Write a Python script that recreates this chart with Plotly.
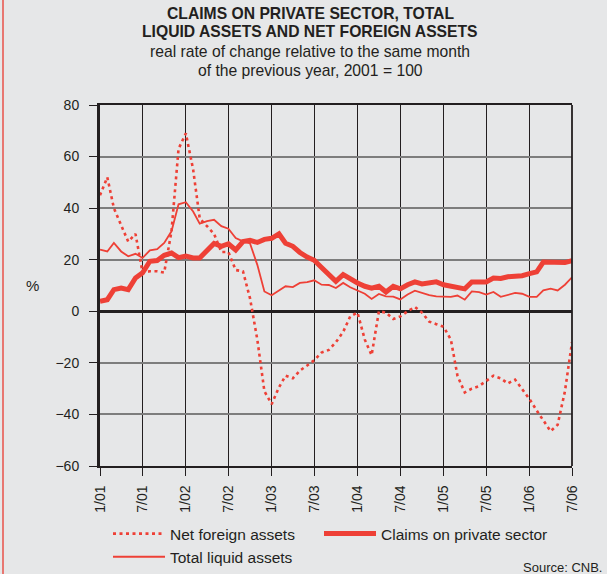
import pandas as pd
import plotly.graph_objects as go

months = pd.date_range("2001-01-01", "2006-07-01", freq="MS")

net_foreign_assets = [
    45, 52, 40, 33, 27, 30, 15, 15.5, 15.5, 15, 31, 63,
    69, 55, 36, 33, 30, 23, 23, 16, 15.5, 5, -11, -31,
    -36, -29.5, -25, -26, -23, -21, -19, -16, -15, -12, -8, -2,
    -0.5, -11, -17, 0, -0.5, -3, -2, 0, 1.7, -0.5, -4, -5,
    -6, -11, -25, -31.5, -30, -29, -27, -25, -26, -28, -26.5, -30,
    -34, -38.5, -42.5, -46.5, -44, -31, -12,
]
claims_private = [
    3.9, 4.5, 8.4, 9, 8.4, 12.9, 14.9, 19.4, 19.7, 21.7, 22.6, 20.8,
    21.4, 20.7, 20.7, 23.9, 26.3, 25.2, 26.2, 23.8, 27, 27.5, 26.7, 27.9,
    28.3, 30, 26.4, 25.2, 22.8, 21, 19.8, 17, 14, 11.6, 14.2, 12.5,
    11, 9.7, 9, 9.7, 7.5, 9.7, 8.7, 10.3, 11.4, 10.6, 10.8, 11.4,
    10.3, 9.7, 9.1, 8.7, 11.4, 11.4, 11.4, 12.9, 12.7, 13.4, 13.4, 13.8,
    14.6, 15.3, 19.1, 19, 18.7, 18.9, 19.6,
]
total_liquid = [
    23.9, 23.2, 26.5, 23.2, 21.3, 22.3, 20.7, 23.6, 24.1, 26.5, 31, 41.5,
    42.3, 38.7, 34, 35, 35.5, 33, 32, 28.4, 27.1, 26.3, 18, 7.7,
    6.2, 8.1, 9.7, 9.4, 11, 11.3, 12, 10.3, 10.2, 9, 11, 9.3,
    8.1, 6.8, 4.8, 6.7, 5.8, 5.7, 4.6, 6.5, 8, 7.1, 6.3, 5.8,
    5.8, 5.6, 6.1, 4.5, 7.7, 7.4, 6.5, 7.5, 5.6, 6.2, 7.1, 6.8,
    5.6, 5.6, 8.1, 8.8, 8.1, 10.3, 13.2,
]

x_tick_vals = pd.date_range("2001-01-01", "2006-07-01", freq="6MS")
x_tick_text = ["1/01", "7/01", "1/02", "7/02", "1/03", "7/03",
               "1/04", "7/04", "1/05", "7/05", "1/06", "7/06"]
y_tick_vals = [-60, -40, -20, 0, 20, 40, 60, 80]
y_tick_text = ["\u221260", "\u221240", "\u221220", "0", "20", "40", "60", "80"]

title_lines = ["<b>CLAIMS ON PRIVATE SECTOR, TOTAL</b>",
               "<b>LIQUID ASSETS AND NET FOREIGN ASSETS</b>",
               "real rate of change relative to the same month",
               "of the previous year, 2001 = 100"]

RED = "#ee4036"
DARK = "#231f20"
BG = "#e6e7e8"
FONT = "Liberation Sans, Arial, sans-serif"

W, H = 607, 574
# plot area in pixels: left 100, right 572, top 105, bottom 466
L, R, T, B = 100, 572, 105, 466


def px_x(x):
    return (x - L) / (R - L)


def px_y(y):
    return (B - y) / (B - T)


fig = go.Figure()
fig.add_trace(go.Scatter(x=months, y=net_foreign_assets, name="Net foreign assets",
                         mode="lines", legend="legend",
                         line=dict(color=RED, width=2.6, dash="3px,3.5px")))
fig.add_trace(go.Scatter(x=months, y=claims_private, name="Claims on private sector",
                         mode="lines", legend="legend2",
                         line=dict(color=RED, width=5)))
fig.add_trace(go.Scatter(x=months, y=total_liquid, name="Total liquid assets",
                         mode="lines", legend="legend",
                         line=dict(color=RED, width=1.8)))

legend_common = dict(orientation="v", xanchor="left", yanchor="top",
                     font=dict(size=15.5, color=DARK), bgcolor="rgba(0,0,0,0)",
                     itemwidth=52, tracegroupgap=0)

fig.update_layout(
    width=W, height=H,
    margin=dict(l=L, r=W - R, t=T, b=H - B, autoexpand=False),
    paper_bgcolor=BG, plot_bgcolor=BG,
    font=dict(family=FONT, size=14, color=DARK),
    showlegend=True,
    legend=dict(x=px_x(108), y=px_y(517), **legend_common),
    legend2=dict(x=px_x(319), y=px_y(517), **legend_common),
)
fig.update_xaxes(
    range=[months[0], months[-1]],
    tickvals=x_tick_vals, ticktext=x_tick_text, tickangle=-90,
    showgrid=True, gridcolor=DARK, gridwidth=1.3,
    ticks="outside", ticklen=8, tickcolor=DARK, tickwidth=1.3,
    showline=True, mirror=True, linecolor=DARK, linewidth=1.8,
    tickfont=dict(size=14, color=DARK), ticklabelstandoff=4,
)
fig.update_yaxes(
    range=[-60, 80], tickvals=y_tick_vals, ticktext=y_tick_text,
    showgrid=True, gridcolor="#7d7d7d", gridwidth=2,
    zeroline=True, zerolinecolor=DARK, zerolinewidth=2.6,
    ticks="outside", ticklen=8, tickcolor=DARK, tickwidth=1.3,
    showline=True, linecolor=DARK, linewidth=3,
    tickfont=dict(size=14, color=DARK), ticklabelstandoff=7,
)

fig.add_shape(type="line", xref="paper", yref="paper", x0=1, x1=1, y0=0, y1=1,
              line=dict(color=DARK, width=1.8))
fig.add_shape(type="line", xref="paper", yref="paper", x0=px_x(3), x1=px_x(3),
              y0=px_y(580), y1=px_y(-5), line=dict(color="#e8524a", width=1.5))

for line, yc in zip(title_lines, [13, 32, 51, 70]):
    fig.add_annotation(
        xref="paper", yref="paper", x=px_x(310), y=px_y(yc), xanchor="center",
        yanchor="middle", showarrow=False,
        font=dict(size=15.7, color=DARK, family=FONT), text=line,
    )
fig.add_annotation(xref="paper", yref="paper", x=px_x(32), y=px_y(285),
                   xanchor="center", yanchor="middle", showarrow=False,
                   text="%", font=dict(size=15, color=DARK, family=FONT))
fig.add_annotation(xref="paper", yref="paper", x=px_x(604), y=px_y(567), xanchor="right",
                   yanchor="middle", showarrow=False, text="Source: CNB.",
                   font=dict(size=13, color=DARK, family=FONT))

fig.write_html(
    "out.html",
    config={"displayModeBar": False},
    post_script="document.body.style.margin='0px';"
                "document.body.style.background='#e6e7e8';",
)
